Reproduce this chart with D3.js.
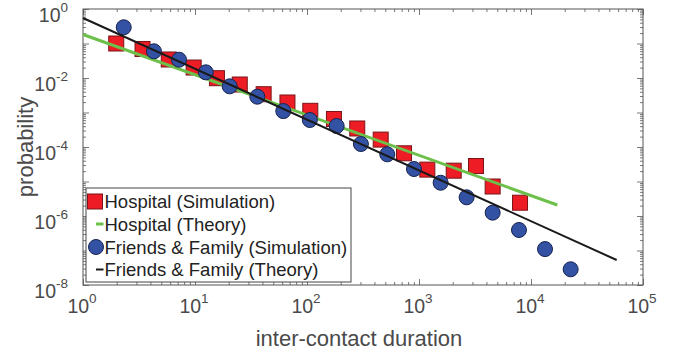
<!DOCTYPE html>
<html>
<head>
<meta charset="utf-8">
<script src="https://cdn.jsdelivr.net/npm/d3@7"></script>
<style>
  html, body { margin: 0; padding: 0; background: #fff; }
  svg { display: block; }
  text { font-family: "Liberation Sans", Arial, Helvetica, sans-serif; fill: #4a4a4a; }
</style>
</head>
<body>
<svg id="chart" width="689" height="358"></svg>
<script>
// Inter-contact duration distributions (log-log)
const hospitalSimX = [1.98, 3.40, 5.83, 9.73, 15.7, 25.1, 41.0, 66.9, 107, 174, 281, 455, 735, 1187, 2041, 3228, 4546, 7980];
const hospitalSimY = [0.100, 0.0693, 0.0344, 0.0201, 0.00987, 0.00648, 0.00339, 0.00195, 0.00112, 6.48e-4, 3.44e-4, 1.64e-4, 6.57e-5, 2.21e-5, 2.06e-5, 2.81e-5, 7.16e-6, 2.43e-6];

const hospitalTheoryX = [1, 17180];
const hospitalTheoryY = [0.182, 2.08e-6];

const familySimX = [2.31, 4.30, 7.2, 12.5, 20.4, 36.0, 61.4, 106, 184, 303, 521, 902, 1560, 2661, 4545, 7810, 13340, 22600];
const familySimY = [0.295, 0.0594, 0.0339, 0.0146, 0.00574, 0.00287, 0.0011, 6.06e-4, 4.06e-4, 1.22e-4, 6.14e-5, 2.30e-5, 9.2e-6, 3.48e-6, 1.25e-6, 3.93e-7, 1.10e-7, 2.85e-8];

const familyTheoryX = [1, 58200];
const familyTheoryY = [0.548, 5.3e-8];

const xMajorTicks = [1, 10, 100, 1000, 10000, 100000];
const xTickExponents = ["0", "1", "2", "3", "4", "5"];
const yMajorTicks = [1e-8, 1e-7, 1e-6, 1e-5, 1e-4, 1e-3, 1e-2, 1e-1, 1];
const yLabelTicks = [1, 1e-2, 1e-4, 1e-6, 1e-8];
const yTickExponents = ["0", "-2", "-4", "-6", "-8"];

const legendLabels = ["Hospital (Simulation)", "Hospital (Theory)", "Friends & Family (Simulation)", "Friends & Family (Theory)"];

const colors = {
  squareFill: "#ee1c24", squareStroke: "#7a1418",
  green: "#6cc04a",
  circleFill: "#3352a4", circleStroke: "#16234f",
  black: "#1a1a1a",
  axis: "#555"
};

const box = { left: 83, right: 643, top: 9, bottom: 285 };
const svg = d3.select("#chart");

const x = d3.scaleLog().domain([1, 1e5]).range([box.left, box.right]);
const y = d3.scaleLog().domain([1e-8, 1]).range([box.bottom, box.top]);

// minor ticks 2..9 within each decade
function minorTicks(lo, hi) {
  const out = [];
  for (let e = lo; e < hi; e++) for (let m = 2; m <= 9; m++) out.push(m * Math.pow(10, e));
  return out;
}
const xMinor = minorTicks(0, 5);
const yMinor = minorTicks(-8, 0);

// plot background
svg.append("rect").attr("x", box.left).attr("y", box.top)
  .attr("width", box.right - box.left).attr("height", box.bottom - box.top)
  .attr("fill", "#fff");

function styleAxis(g) {
  g.select(".domain").remove();
  g.selectAll("line").attr("stroke", colors.axis).attr("stroke-width", 0.8);
  g.selectAll("text").remove();
}

// inward ticks on all four sides
const axes = [
  [d3.axisBottom(x).tickValues(xMajorTicks).tickSize(-6), `translate(0,${box.bottom})`],
  [d3.axisBottom(x).tickValues(xMinor).tickSize(-3), `translate(0,${box.bottom})`],
  [d3.axisTop(x).tickValues(xMajorTicks).tickSize(-6), `translate(0,${box.top})`],
  [d3.axisTop(x).tickValues(xMinor).tickSize(-3), `translate(0,${box.top})`],
  [d3.axisLeft(y).tickValues(yMajorTicks).tickSize(-6), `translate(${box.left},0)`],
  [d3.axisLeft(y).tickValues(yMinor).tickSize(-3), `translate(${box.left},0)`],
  [d3.axisRight(y).tickValues(yMajorTicks).tickSize(-6), `translate(${box.right},0)`],
  [d3.axisRight(y).tickValues(yMinor).tickSize(-3), `translate(${box.right},0)`]
];
axes.forEach(([ax, tr]) => svg.append("g").attr("transform", tr).call(ax).call(styleAxis));

// frame
svg.append("rect").attr("x", box.left).attr("y", box.top)
  .attr("width", box.right - box.left).attr("height", box.bottom - box.top)
  .attr("fill", "none").attr("stroke", colors.axis).attr("stroke-width", 1);

// tick labels with superscript exponents
const xLab = svg.append("g");
xMajorTicks.forEach((v, i) => {
  const t = xLab.append("text").attr("x", x(v) - 1).attr("y", 313)
    .attr("text-anchor", "middle").style("font-size", "19.5px");
  t.append("tspan").text("10");
  t.append("tspan").attr("dy", -10).style("font-size", "13.5px").text(xTickExponents[i]);
});
const yLab = svg.append("g");
yLabelTicks.forEach((v, i) => {
  const t = yLab.append("text").attr("x", 68).attr("y", y(v) + 13)
    .attr("text-anchor", "end").style("font-size", "19.5px");
  t.append("tspan").text("10");
  t.append("tspan").attr("dy", -10).style("font-size", "13.5px").text(yTickExponents[i]);
});

// axis titles
svg.append("text").attr("x", (box.left + box.right) / 2 - 4).attr("y", 346)
  .attr("text-anchor", "middle").style("font-size", "22px").text("inter-contact duration");
svg.append("text").attr("transform", `translate(33,${(box.top + box.bottom) / 2}) rotate(-90)`)
  .attr("text-anchor", "middle").style("font-size", "22px").text("probability");

// data layers
const plot = svg.append("g");
const line = d3.line().x(d => x(d[0])).y(d => y(d[1]));
const zip = (a, b) => a.map((v, i) => [v, b[i]]);

const sq = 15;
plot.append("g").selectAll("rect").data(zip(hospitalSimX, hospitalSimY)).join("rect")
  .attr("x", d => x(d[0]) - sq / 2).attr("y", d => y(d[1]) - sq / 2)
  .attr("width", sq).attr("height", sq)
  .attr("fill", colors.squareFill).attr("stroke", colors.squareStroke).attr("stroke-width", 1);

plot.append("path").datum(zip(hospitalTheoryX, hospitalTheoryY)).attr("d", line)
  .attr("fill", "none").attr("stroke", colors.green).attr("stroke-width", 3);

plot.append("g").selectAll("circle").data(zip(familySimX, familySimY)).join("circle")
  .attr("cx", d => x(d[0])).attr("cy", d => y(d[1])).attr("r", 7.5)
  .attr("fill", colors.circleFill).attr("stroke", colors.circleStroke).attr("stroke-width", 1);

plot.append("path").datum(zip(familyTheoryX, familyTheoryY)).attr("d", line)
  .attr("fill", "none").attr("stroke", colors.black).attr("stroke-width", 2);

// legend
const leg = svg.append("g");
leg.append("rect").attr("x", 86).attr("y", 188).attr("width", 265).attr("height", 94)
  .attr("fill", "#fff").attr("stroke", "#444").attr("stroke-width", 1);
const rowY = [201.5, 224, 247, 269.5];
leg.append("rect").attr("x", 87.5).attr("y", rowY[0] - 7.5).attr("width", 15).attr("height", 15)
  .attr("fill", colors.squareFill).attr("stroke", colors.squareStroke);
leg.append("line").attr("x1", 96).attr("x2", 103.5).attr("y1", rowY[1]).attr("y2", rowY[1])
  .attr("stroke", colors.green).attr("stroke-width", 3);
leg.append("circle").attr("cx", 96).attr("cy", rowY[2]).attr("r", 7.5)
  .attr("fill", colors.circleFill).attr("stroke", colors.circleStroke);
leg.append("line").attr("x1", 96).attr("x2", 103.5).attr("y1", rowY[3]).attr("y2", rowY[3])
  .attr("stroke", colors.black).attr("stroke-width", 2);
legendLabels.forEach((s, i) => {
  leg.append("text").attr("x", 104.5).attr("y", rowY[i] + 6.6)
    .style("font-size", "18.5px").style("fill", "#222").text(s);
});
</script>
</body>
</html>
